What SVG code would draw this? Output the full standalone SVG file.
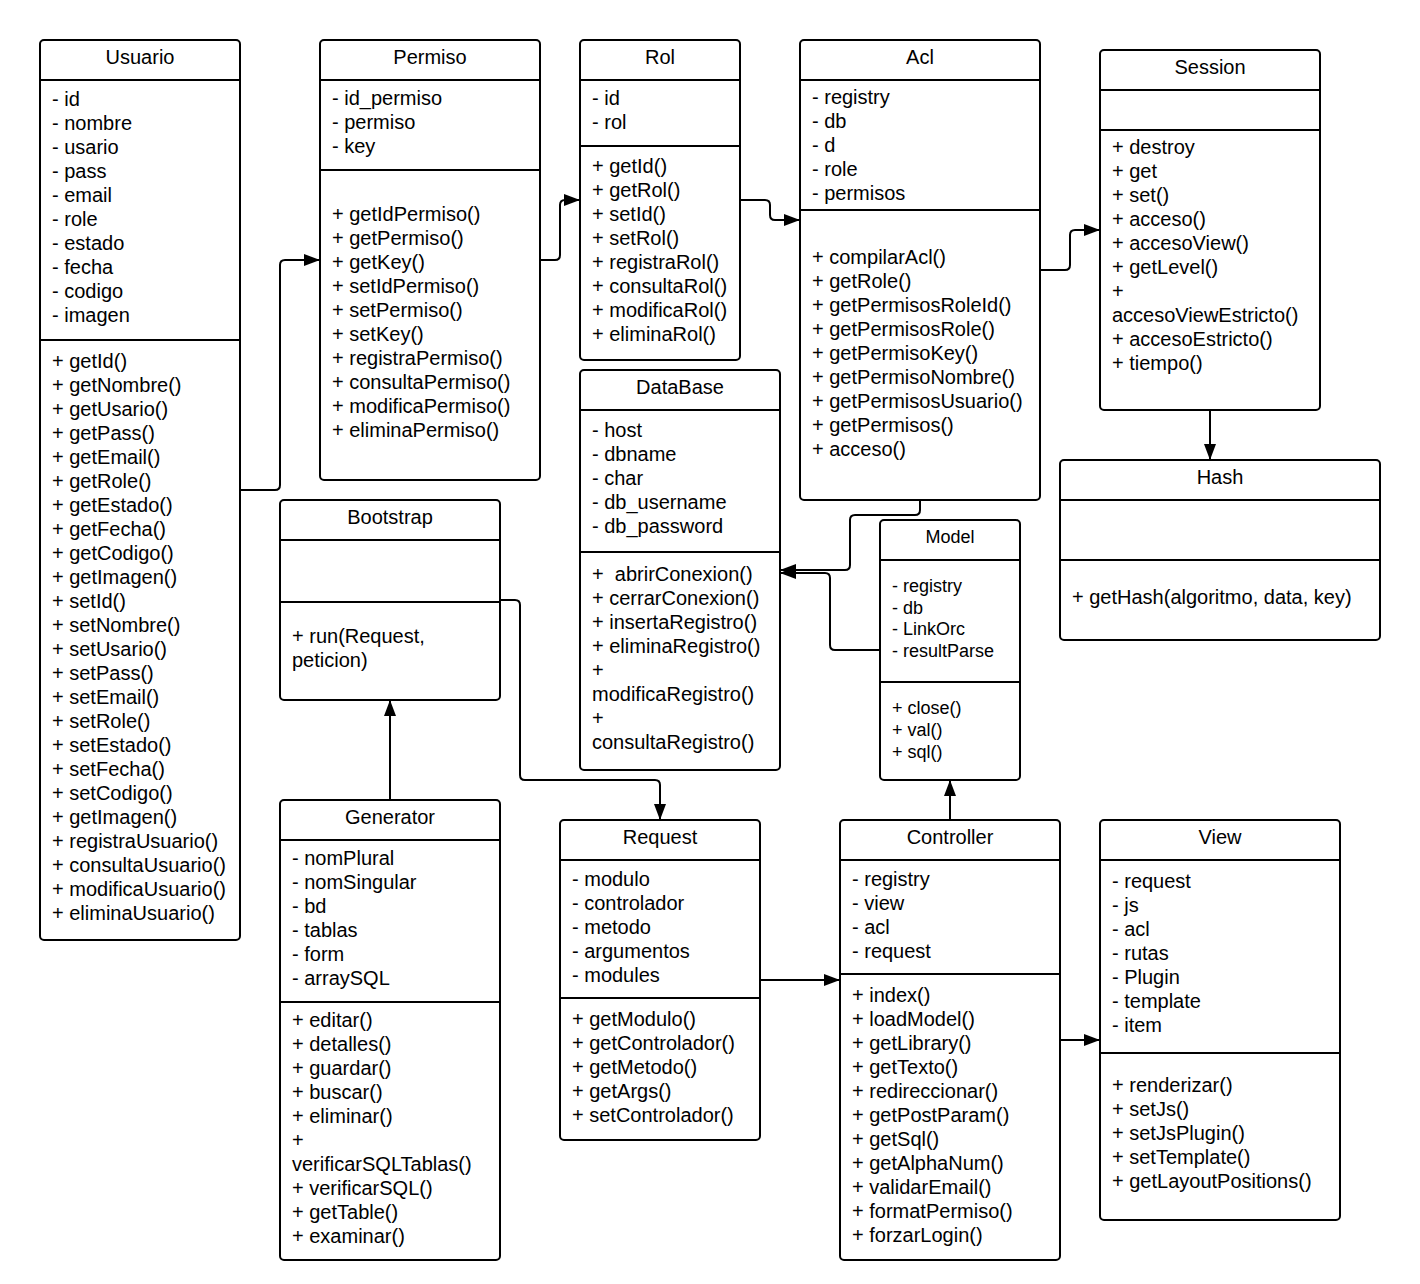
<svg xmlns="http://www.w3.org/2000/svg" width="1420" height="1284" viewBox="0 0 1420 1284">
<style>
.box{fill:#fff;stroke:#000;stroke-width:2}
.ln{stroke:#000;stroke-width:2;fill:none}
.t{font-family:"Liberation Sans",Arial,sans-serif;font-size:20px;fill:#000}
.s{font-family:"Liberation Sans",Arial,sans-serif;font-size:18px;fill:#000}
.c{text-anchor:middle}
.con{stroke:#000;stroke-width:2;fill:none;stroke-linejoin:round;marker-end:url(#arr)}
</style>
<defs>
<marker id="arr" markerUnits="userSpaceOnUse" markerWidth="16" markerHeight="12" refX="16" refY="6" orient="auto">
<path d="M0,0 L16,6 L0,12 z" fill="#000"/>
</marker>
</defs>
<rect width="1420" height="1284" fill="#fff"/>

<g id="connectors">
<path class="con" d="M240 490 H275 Q280 490 280 485 V265 Q280 260 285 260 H320"/>
<path class="con" d="M540 260 H555 Q560 260 560 255 V205 Q560 200 565 200 H580"/>
<path class="con" d="M740 200 H765 Q770 200 770 205 V215 Q770 220 775 220 H800"/>
<path class="con" d="M1040 270 H1065 Q1070 270 1070 265 V235 Q1070 230 1075 230 H1100"/>
<path class="con" d="M1210 410 V460"/>
<path class="con" d="M920 500 V510 Q920 515 915 515 H855 Q850 515 850 520 V565 Q850 570 845 570 H780"/>
<path class="con" d="M880 650 H835 Q830 650 830 645 V578 Q830 573 825 573 H780"/>
<path class="con" d="M500 600 H515 Q520 600 520 605 V775 Q520 780 525 780 H655 Q660 780 660 785 V820"/>
<path class="con" d="M390 800 V700"/>
<path class="con" d="M760 980 H840"/>
<path class="con" d="M950 820 V780"/>
<path class="con" d="M1060 1040 H1100"/>
</g>

<g id="Usuario">
<rect class="box" x="40" y="40" width="200" height="900" rx="4"/>
<line class="ln" x1="40" y1="80" x2="240" y2="80"/>
<line class="ln" x1="40" y1="340" x2="240" y2="340"/>
<text class="t c" x="140" y="64">Usuario</text>
<text class="t" x="52" y="106"><tspan x="52">- id</tspan><tspan x="52" dy="24">- nombre</tspan><tspan x="52" dy="24">- usario</tspan><tspan x="52" dy="24">- pass</tspan><tspan x="52" dy="24">- email</tspan><tspan x="52" dy="24">- role</tspan><tspan x="52" dy="24">- estado</tspan><tspan x="52" dy="24">- fecha</tspan><tspan x="52" dy="24">- codigo</tspan><tspan x="52" dy="24">- imagen</tspan></text>
<text class="t" x="52" y="368"><tspan x="52">+ getId()</tspan><tspan x="52" dy="24">+ getNombre()</tspan><tspan x="52" dy="24">+ getUsario()</tspan><tspan x="52" dy="24">+ getPass()</tspan><tspan x="52" dy="24">+ getEmail()</tspan><tspan x="52" dy="24">+ getRole()</tspan><tspan x="52" dy="24">+ getEstado()</tspan><tspan x="52" dy="24">+ getFecha()</tspan><tspan x="52" dy="24">+ getCodigo()</tspan><tspan x="52" dy="24">+ getImagen()</tspan><tspan x="52" dy="24">+ setId()</tspan><tspan x="52" dy="24">+ setNombre()</tspan><tspan x="52" dy="24">+ setUsario()</tspan><tspan x="52" dy="24">+ setPass()</tspan><tspan x="52" dy="24">+ setEmail()</tspan><tspan x="52" dy="24">+ setRole()</tspan><tspan x="52" dy="24">+ setEstado()</tspan><tspan x="52" dy="24">+ setFecha()</tspan><tspan x="52" dy="24">+ setCodigo()</tspan><tspan x="52" dy="24">+ getImagen()</tspan><tspan x="52" dy="24">+ registraUsuario()</tspan><tspan x="52" dy="24">+ consultaUsuario()</tspan><tspan x="52" dy="24">+ modificaUsuario()</tspan><tspan x="52" dy="24">+ eliminaUsuario()</tspan></text>
</g>

<g id="Permiso">
<rect class="box" x="320" y="40" width="220" height="440" rx="4"/>
<line class="ln" x1="320" y1="80" x2="540" y2="80"/>
<line class="ln" x1="320" y1="170" x2="540" y2="170"/>
<text class="t c" x="430" y="64">Permiso</text>
<text class="t" x="332" y="105"><tspan x="332">- id_permiso</tspan><tspan x="332" dy="24">- permiso</tspan><tspan x="332" dy="24">- key</tspan></text>
<text class="t" x="332" y="221"><tspan x="332">+ getIdPermiso()</tspan><tspan x="332" dy="24">+ getPermiso()</tspan><tspan x="332" dy="24">+ getKey()</tspan><tspan x="332" dy="24">+ setIdPermiso()</tspan><tspan x="332" dy="24">+ setPermiso()</tspan><tspan x="332" dy="24">+ setKey()</tspan><tspan x="332" dy="24">+ registraPermiso()</tspan><tspan x="332" dy="24">+ consultaPermiso()</tspan><tspan x="332" dy="24">+ modificaPermiso()</tspan><tspan x="332" dy="24">+ eliminaPermiso()</tspan></text>
</g>

<g id="Rol">
<rect class="box" x="580" y="40" width="160" height="320" rx="4"/>
<line class="ln" x1="580" y1="80" x2="740" y2="80"/>
<line class="ln" x1="580" y1="146" x2="740" y2="146"/>
<text class="t c" x="660" y="64">Rol</text>
<text class="t" x="592" y="105"><tspan x="592">- id</tspan><tspan x="592" dy="24">- rol</tspan></text>
<text class="t" x="592" y="173"><tspan x="592">+ getId()</tspan><tspan x="592" dy="24">+ getRol()</tspan><tspan x="592" dy="24">+ setId()</tspan><tspan x="592" dy="24">+ setRol()</tspan><tspan x="592" dy="24">+ registraRol()</tspan><tspan x="592" dy="24">+ consultaRol()</tspan><tspan x="592" dy="24">+ modificaRol()</tspan><tspan x="592" dy="24">+ eliminaRol()</tspan></text>
</g>

<g id="Acl">
<rect class="box" x="800" y="40" width="240" height="460" rx="4"/>
<line class="ln" x1="800" y1="80" x2="1040" y2="80"/>
<line class="ln" x1="800" y1="210" x2="1040" y2="210"/>
<text class="t c" x="920" y="64">Acl</text>
<text class="t" x="812" y="104"><tspan x="812">- registry</tspan><tspan x="812" dy="24">- db</tspan><tspan x="812" dy="24">- d</tspan><tspan x="812" dy="24">- role</tspan><tspan x="812" dy="24">- permisos</tspan></text>
<text class="t" x="812" y="264"><tspan x="812">+ compilarAcl()</tspan><tspan x="812" dy="24">+ getRole()</tspan><tspan x="812" dy="24">+ getPermisosRoleId()</tspan><tspan x="812" dy="24">+ getPermisosRole()</tspan><tspan x="812" dy="24">+ getPermisoKey()</tspan><tspan x="812" dy="24">+ getPermisoNombre()</tspan><tspan x="812" dy="24">+ getPermisosUsuario()</tspan><tspan x="812" dy="24">+ getPermisos()</tspan><tspan x="812" dy="24">+ acceso()</tspan></text>
</g>

<g id="Session">
<rect class="box" x="1100" y="50" width="220" height="360" rx="4"/>
<line class="ln" x1="1100" y1="90" x2="1320" y2="90"/>
<line class="ln" x1="1100" y1="130" x2="1320" y2="130"/>
<text class="t c" x="1210" y="74">Session</text>
<text class="t" x="1112" y="154"><tspan x="1112">+ destroy</tspan><tspan x="1112" dy="24">+ get</tspan><tspan x="1112" dy="24">+ set()</tspan><tspan x="1112" dy="24">+ acceso()</tspan><tspan x="1112" dy="24">+ accesoView()</tspan><tspan x="1112" dy="24">+ getLevel()</tspan><tspan x="1112" dy="24">+</tspan><tspan x="1112" dy="24">accesoViewEstricto()</tspan><tspan x="1112" dy="24">+ accesoEstricto()</tspan><tspan x="1112" dy="24">+ tiempo()</tspan></text>
</g>

<g id="Hash">
<rect class="box" x="1060" y="460" width="320" height="180" rx="4"/>
<line class="ln" x1="1060" y1="500" x2="1380" y2="500"/>
<line class="ln" x1="1060" y1="560" x2="1380" y2="560"/>
<text class="t c" x="1220" y="484">Hash</text>
<text class="t" x="1072" y="604">+ getHash(algoritmo, data, key)</text>
</g>

<g id="DataBase">
<rect class="box" x="580" y="370" width="200" height="400" rx="4"/>
<line class="ln" x1="580" y1="410" x2="780" y2="410"/>
<line class="ln" x1="580" y1="552" x2="780" y2="552"/>
<text class="t c" x="680" y="394">DataBase</text>
<text class="t" x="592" y="437"><tspan x="592">- host</tspan><tspan x="592" dy="24">- dbname</tspan><tspan x="592" dy="24">- char</tspan><tspan x="592" dy="24">- db_username</tspan><tspan x="592" dy="24">- db_password</tspan></text>
<text class="t" x="592" y="581" xml:space="preserve"><tspan x="592">+  abrirConexion()</tspan><tspan x="592" dy="24">+ cerrarConexion()</tspan><tspan x="592" dy="24">+ insertaRegistro()</tspan><tspan x="592" dy="24">+ eliminaRegistro()</tspan><tspan x="592" dy="24">+</tspan><tspan x="592" dy="24">modificaRegistro()</tspan><tspan x="592" dy="24">+</tspan><tspan x="592" dy="24">consultaRegistro()</tspan></text>
</g>

<g id="Model">
<rect class="box" x="880" y="520" width="140" height="260" rx="4"/>
<line class="ln" x1="880" y1="560" x2="1020" y2="560"/>
<line class="ln" x1="880" y1="682" x2="1020" y2="682"/>
<text class="s c" x="950" y="543">Model</text>
<text class="s" x="892" y="592"><tspan x="892">- registry</tspan><tspan x="892" dy="21.7">- db</tspan><tspan x="892" dy="21.7">- LinkOrc</tspan><tspan x="892" dy="21.7">- resultParse</tspan></text>
<text class="s" x="892" y="714"><tspan x="892">+ close()</tspan><tspan x="892" dy="22">+ val()</tspan><tspan x="892" dy="22">+ sql()</tspan></text>
</g>

<g id="Bootstrap">
<rect class="box" x="280" y="500" width="220" height="200" rx="4"/>
<line class="ln" x1="280" y1="540" x2="500" y2="540"/>
<line class="ln" x1="280" y1="602" x2="500" y2="602"/>
<text class="t c" x="390" y="524">Bootstrap</text>
<text class="t" x="292" y="643"><tspan x="292">+ run(Request,</tspan><tspan x="292" dy="24">peticion)</tspan></text>
</g>

<g id="Generator">
<rect class="box" x="280" y="800" width="220" height="460" rx="4"/>
<line class="ln" x1="280" y1="840" x2="500" y2="840"/>
<line class="ln" x1="280" y1="1002" x2="500" y2="1002"/>
<text class="t c" x="390" y="824">Generator</text>
<text class="t" x="292" y="865"><tspan x="292">- nomPlural</tspan><tspan x="292" dy="24">- nomSingular</tspan><tspan x="292" dy="24">- bd</tspan><tspan x="292" dy="24">- tablas</tspan><tspan x="292" dy="24">- form</tspan><tspan x="292" dy="24">- arraySQL</tspan></text>
<text class="t" x="292" y="1027"><tspan x="292">+ editar()</tspan><tspan x="292" dy="24">+ detalles()</tspan><tspan x="292" dy="24">+ guardar()</tspan><tspan x="292" dy="24">+ buscar()</tspan><tspan x="292" dy="24">+ eliminar()</tspan><tspan x="292" dy="24">+</tspan><tspan x="292" dy="24">verificarSQLTablas()</tspan><tspan x="292" dy="24">+ verificarSQL()</tspan><tspan x="292" dy="24">+ getTable()</tspan><tspan x="292" dy="24">+ examinar()</tspan></text>
</g>

<g id="Request">
<rect class="box" x="560" y="820" width="200" height="320" rx="4"/>
<line class="ln" x1="560" y1="860" x2="760" y2="860"/>
<line class="ln" x1="560" y1="998" x2="760" y2="998"/>
<text class="t c" x="660" y="844">Request</text>
<text class="t" x="572" y="886"><tspan x="572">- modulo</tspan><tspan x="572" dy="24">- controlador</tspan><tspan x="572" dy="24">- metodo</tspan><tspan x="572" dy="24">- argumentos</tspan><tspan x="572" dy="24">- modules</tspan></text>
<text class="t" x="572" y="1026"><tspan x="572">+ getModulo()</tspan><tspan x="572" dy="24">+ getControlador()</tspan><tspan x="572" dy="24">+ getMetodo()</tspan><tspan x="572" dy="24">+ getArgs()</tspan><tspan x="572" dy="24">+ setControlador()</tspan></text>
</g>

<g id="Controller">
<rect class="box" x="840" y="820" width="220" height="440" rx="4"/>
<line class="ln" x1="840" y1="860" x2="1060" y2="860"/>
<line class="ln" x1="840" y1="974" x2="1060" y2="974"/>
<text class="t c" x="950" y="844">Controller</text>
<text class="t" x="852" y="886"><tspan x="852">- registry</tspan><tspan x="852" dy="24">- view</tspan><tspan x="852" dy="24">- acl</tspan><tspan x="852" dy="24">- request</tspan></text>
<text class="t" x="852" y="1002"><tspan x="852">+ index()</tspan><tspan x="852" dy="24">+ loadModel()</tspan><tspan x="852" dy="24">+ getLibrary()</tspan><tspan x="852" dy="24">+ getTexto()</tspan><tspan x="852" dy="24">+ redireccionar()</tspan><tspan x="852" dy="24">+ getPostParam()</tspan><tspan x="852" dy="24">+ getSql()</tspan><tspan x="852" dy="24">+ getAlphaNum()</tspan><tspan x="852" dy="24">+ validarEmail()</tspan><tspan x="852" dy="24">+ formatPermiso()</tspan><tspan x="852" dy="24">+ forzarLogin()</tspan></text>
</g>

<g id="View">
<rect class="box" x="1100" y="820" width="240" height="400" rx="4"/>
<line class="ln" x1="1100" y1="860" x2="1340" y2="860"/>
<line class="ln" x1="1100" y1="1053" x2="1340" y2="1053"/>
<text class="t c" x="1220" y="844">View</text>
<text class="t" x="1112" y="888"><tspan x="1112">- request</tspan><tspan x="1112" dy="24">- js</tspan><tspan x="1112" dy="24">- acl</tspan><tspan x="1112" dy="24">- rutas</tspan><tspan x="1112" dy="24">- Plugin</tspan><tspan x="1112" dy="24">- template</tspan><tspan x="1112" dy="24">- item</tspan></text>
<text class="t" x="1112" y="1092"><tspan x="1112">+ renderizar()</tspan><tspan x="1112" dy="24">+ setJs()</tspan><tspan x="1112" dy="24">+ setJsPlugin()</tspan><tspan x="1112" dy="24">+ setTemplate()</tspan><tspan x="1112" dy="24">+ getLayoutPositions()</tspan></text>
</g>
</svg>
